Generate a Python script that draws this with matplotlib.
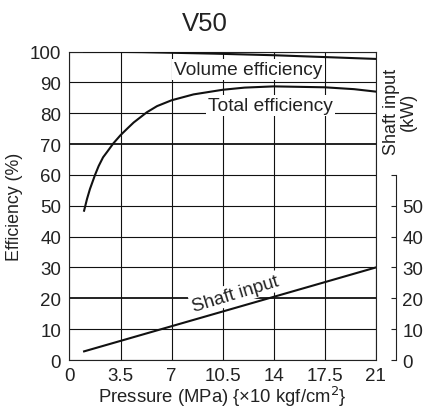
import matplotlib
matplotlib.use("Agg")
import matplotlib.pyplot as plt

plt.rcParams['font.family'] = ['Liberation Sans', 'DejaVu Sans']

# Data
pressure_ticks = [0, 3.5, 7, 10.5, 14, 17.5, 21]
pressure_tick_labels = ["0", "3.5", "7", "10.5", "14", "17.5", "21"]
eff_ticks = [0, 10, 20, 30, 40, 50, 60, 70, 80, 90, 100]
kw_ticks = [0, 10, 20, 30, 40, 50, 60]
kw_tick_labels = ["0", "10", "20", "30", "40", "50", ""]

vol_x = [1, 5, 10, 14, 17.5, 21]
vol_y = [100, 99.8, 99.3, 98.8, 98.2, 97.6]

tot_x = [1, 1.2, 1.4, 1.75, 2.0, 2.3, 2.6, 3, 3.5, 4.0, 4.4, 5.3, 6, 7, 8.5, 10.5, 12, 14, 17.5, 19.5, 21]
tot_y = [48.4, 52.2, 55.4, 60, 62.9, 65.7, 67.6, 70.2, 72.9, 75.2, 77, 80.3, 82.3, 84.2, 86.1, 87.6, 88.3, 88.7, 88.4, 87.8, 87]

shaft_x = [1, 21]
shaft_y = [2.8, 30]

fig = plt.figure(figsize=(4.23, 4.10), dpi=100)
ax = fig.add_axes([0.1643, 0.1195, 0.7243, 0.7524])
ax.set_xlim(0, 21)
ax.set_ylim(0, 100)
ax.set_xticks(pressure_ticks)
ax.set_xticklabels(pressure_tick_labels)
ax.set_yticks(eff_ticks)
ax.tick_params(length=0, labelsize=13.5, colors='#222222')
ax.tick_params(axis='x', pad=5)
ax.tick_params(axis='y', pad=6)
ax.grid(True, color='#111111', linewidth=0.8)
for v, gl in zip(eff_ticks, ax.get_ygridlines()):
    if v in (20, 70):
        gl.set_linewidth(1.3)
for s in ax.spines.values():
    s.set_color('#222222')
    s.set_linewidth(0.8)

ax.plot(vol_x, vol_y, color='#111111', lw=1.5, zorder=3)
ax.plot(tot_x, tot_y, color='#111111', lw=1.5, zorder=3)
ax.plot(shaft_x, shaft_y, color='#111111', lw=1.5, zorder=3)

bb = dict(facecolor='white', edgecolor='none', pad=1.5)
ax.text(12.25, 94.2, "Volume efficiency", ha='center', va='center', fontsize=13.8,
        color='#222222', bbox=bb, zorder=4)
ax.text(13.76, 82.4, "Total efficiency", ha='center', va='center', fontsize=13.8,
        color='#222222', bbox=bb, zorder=4)
ax.text(11.4, 21.6, "Shaft input", ha='center', va='center', fontsize=13.5,
        color='#222222', rotation=17, rotation_mode='anchor', bbox=bb, zorder=4)

ax.set_xlabel("Pressure (MPa) {×10 kgf/cm$^2$}", fontsize=13.3, color='#222222', labelpad=0)
ax.set_ylabel("Efficiency (%)", fontsize=12.8, color='#222222', labelpad=5)

# Secondary axis (Shaft input)
ax2 = ax.twinx()
ax2.set_ylim(0, 100)
for k in ('top', 'bottom', 'left'):
    ax2.spines[k].set_visible(False)
ax2.spines['right'].set_position(('outward', 14.4))
ax2.spines['right'].set_bounds(0, 60)
ax2.spines['right'].set_color('#222222')
ax2.spines['right'].set_linewidth(0.8)
ax2.set_yticks(kw_ticks)
ax2.set_yticklabels(kw_tick_labels)
ax2.tick_params(axis='y', direction='in', length=3.5, width=0.8, labelsize=13.5,
                colors='#222222', pad=4.5)

fig.text(400 / 423, 1 - 112 / 410, "Shaft input\n(kW)", rotation=90, ha='center',
         va='center', multialignment='center', fontsize=13, color='#222222',
         linespacing=1.0)

fig.text(205 / 423, 1 - 24 / 410, "V50", ha='center', va='center', fontsize=18.5,
         color='#222222')

fig.savefig("out.png", dpi=100)
